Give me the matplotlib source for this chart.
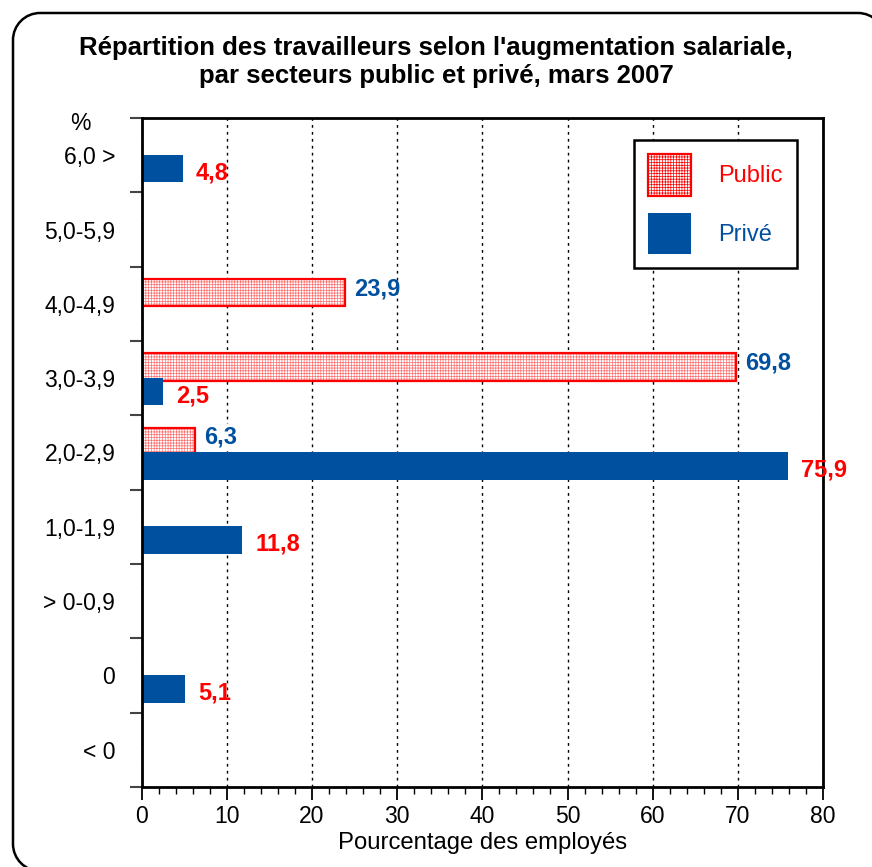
import matplotlib
matplotlib.use("Agg")
import matplotlib.pyplot as plt
from matplotlib.patches import PathPatch
from matplotlib.path import Path
from matplotlib.ticker import MultipleLocator, FixedLocator
import numpy as np

plt.rcParams["font.family"] = ["Liberation Sans", "DejaVu Sans"]
plt.rcParams["hatch.linewidth"] = 0.5

categories = ["6,0 >", "5,0-5,9", "4,0-4,9", "3,0-3,9", "2,0-2,9",
              "1,0-1,9", "> 0-0,9", "0", "< 0"]
public = [None, None, 23.9, 69.8, 6.3, None, None, None, None]
prive = [4.8, None, None, 2.5, 75.9, 11.8, None, 5.1, None]

RED = "#ff0000"
BLUE = "#0050a0"

W, H = 872, 867
fig = plt.figure(figsize=(W / 100, H / 100), dpi=100)
ax = fig.add_axes([141.7 / W, 1 - 787 / H, (823 - 141.7) / W, (787 - 118) / H])

# rounded frame round the whole picture, in pixels (y measured from the top)
def px(x, y):
    return (x / W, 1 - y / H)

r, k = 27, 0.5523 * 27
L, T, R, B = 13, 13, 885, 871
verts = [px(R, B + 20), px(R, T + r),
         px(R, T + r - k), px(R - r + k, T), px(R - r, T),
         px(L + r, T),
         px(L + r - k, T), px(L, T + r - k), px(L, T + r),
         px(L, B - r),
         px(L, B - r + k), px(L + r - k, B), px(L + r, B),
         px(R + 20, B)]
codes = [Path.MOVETO, Path.LINETO,
         Path.CURVE4, Path.CURVE4, Path.CURVE4,
         Path.LINETO,
         Path.CURVE4, Path.CURVE4, Path.CURVE4,
         Path.LINETO,
         Path.CURVE4, Path.CURVE4, Path.CURVE4,
         Path.LINETO]
fig.patches.append(PathPatch(Path(verts, codes), transform=fig.transFigure,
                             facecolor="none", edgecolor="black", linewidth=1.8))

ys = np.arange(len(categories))
h = 0.37
pub_y = [y - 0.15 for y, v in zip(ys, public) if v is not None]
pub_v = [v for v in public if v is not None]
prv_y = [y + 0.18 for y, v in zip(ys, prive) if v is not None]
prv_v = [v for v in prive if v is not None]

# public: fine pink mesh + red outline
ax.barh(pub_y, pub_v, height=h, facecolor="white", edgecolor="#ff7070",
        linewidth=0, hatch="++++++", zorder=3)
ax.barh(pub_y, pub_v, height=h, facecolor="none", edgecolor=RED,
        linewidth=1.6, zorder=3)
ax.barh(prv_y, prv_v, height=h, color=BLUE, zorder=3)

# value labels (colours are swapped in the original)
for y, v in zip(pub_y, pub_v):
    txt = f"{v:.1f}".replace(".", ",")
    kw = {}
    if v == 6.3:
        kw["bbox"] = dict(facecolor="white", edgecolor="none", pad=1)
    ax.annotate(txt, (v, y), xytext=(6.5, 3), textcoords="offset points",
                ha="left", va="center", color=BLUE, fontsize=17,
                fontweight="bold", zorder=5, **kw)
for y, v in zip(prv_y, prv_v):
    txt = f"{v:.1f}".replace(".", ",")
    ax.annotate(txt, (v, y), xytext=(9.5, -3), textcoords="offset points",
                ha="left", va="center", color=RED, fontsize=17,
                fontweight="bold", zorder=5)

ax.set_xlim(0, 80)
ax.set_ylim(len(categories) - 0.5, -0.5)

ax.xaxis.set_major_locator(MultipleLocator(10))
ax.xaxis.set_minor_locator(MultipleLocator(2))
ax.tick_params(axis="x", which="major", length=9, width=1.3, labelsize=16.5, pad=4)
ax.tick_params(axis="x", which="minor", length=5, width=1.0)

ax.yaxis.set_major_locator(FixedLocator(np.arange(-0.5, len(categories), 1.0)))
ax.yaxis.set_minor_locator(FixedLocator(ys))
ax.set_yticklabels([], minor=False)
ax.set_yticklabels(categories, minor=True)
ax.tick_params(axis="y", which="major", length=9, width=1.5, color="#444444")
ax.tick_params(axis="y", which="minor", length=0, labelsize=16.5, pad=19)

ax.grid(axis="x", which="major", linestyle=(0, (2, 3)), color="black", linewidth=1.0, zorder=0)
for s in ax.spines.values():
    s.set_linewidth(2)
    s.set_zorder(4)

ax.set_xlabel("Pourcentage des employés", fontsize=17.2, labelpad=3)

fig.text(80 / W, 1 - 123 / H, "%", ha="center", va="center", fontsize=16.5)

fig.text(0.5, 1 - 62 / H,
         "Répartition des travailleurs selon l'augmentation salariale,\n"
         "par secteurs public et privé, mars 2007",
         ha="center", va="center", fontsize=18.5, fontweight="bold", linespacing=1.2)

# legend handles
pub_handle = ax.barh([np.nan], [np.nan], facecolor="white", edgecolor=RED,
                     linewidth=1.6, hatch="++++++")
prv_handle = ax.barh([np.nan], [np.nan], color=BLUE)
leg = fig.legend([pub_handle, prv_handle], ["Public", "Privé"],
                 loc="upper left", bbox_to_anchor=(634 / W, 1 - 140 / H),
                 bbox_transform=fig.transFigure, borderaxespad=0, fontsize=17,
                 handlelength=1.82, handleheight=2.32, labelspacing=0.72,
                 handletextpad=1.15, borderpad=0.6, fancybox=False, framealpha=1)
leg.get_frame().set_edgecolor("black")
leg.get_frame().set_linewidth(1.8)
for t, c in zip(leg.get_texts(), [RED, BLUE]):
    t.set_color(c)

fig.savefig("out.png", dpi=100)
